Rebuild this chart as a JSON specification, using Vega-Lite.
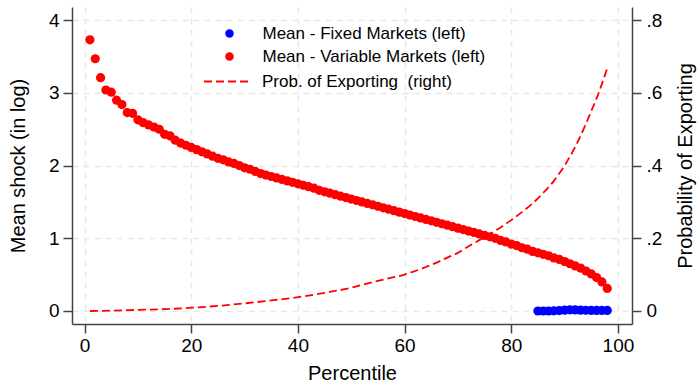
{
  "$schema": "https://vega.github.io/schema/vega-lite/v6.json",
  "width": 560,
  "height": 317,
  "autosize": {"type": "none"},
  "padding": {"left": 72, "top": 7, "right": 68, "bottom": 62},
  "background": "white",
  "config": {
    "view": {"stroke": null},
    "font": "Liberation Sans",
    "axis": {
      "domainColor": "#444444",
      "domainWidth": 1.5,
      "tickColor": "#444444",
      "tickWidth": 1.5,
      "tickSize": 9,
      "labelFont": "Liberation Sans",
      "labelFontSize": 19,
      "labelColor": "#000000",
      "titleFont": "Liberation Sans",
      "titleFontSize": 20,
      "titleFontWeight": "normal",
      "titleColor": "#000000",
      "gridColor": "#e8e8e8",
      "gridWidth": 1.5,
      "gridDash": [6, 5]
    },
    "legend": {
      "orient": "none",
      "title": null,
      "padding": 0,
      "labelFont": "Liberation Sans",
      "labelFontSize": 17,
      "labelColor": "#000000",
      "labelLimit": 500
    }
  },
  "datasets": {
    "pts": [
      {"p": 1, "v": 3.73, "series": "Mean - Variable Markets (left)"},
      {"p": 2, "v": 3.47, "series": "Mean - Variable Markets (left)"},
      {"p": 3, "v": 3.21, "series": "Mean - Variable Markets (left)"},
      {"p": 4, "v": 3.04, "series": "Mean - Variable Markets (left)"},
      {"p": 5, "v": 3.01, "series": "Mean - Variable Markets (left)"},
      {"p": 6, "v": 2.90, "series": "Mean - Variable Markets (left)"},
      {"p": 7, "v": 2.84, "series": "Mean - Variable Markets (left)"},
      {"p": 8, "v": 2.73, "series": "Mean - Variable Markets (left)"},
      {"p": 9, "v": 2.72, "series": "Mean - Variable Markets (left)"},
      {"p": 10, "v": 2.63, "series": "Mean - Variable Markets (left)"},
      {"p": 11, "v": 2.59, "series": "Mean - Variable Markets (left)"},
      {"p": 12, "v": 2.56, "series": "Mean - Variable Markets (left)"},
      {"p": 13, "v": 2.53, "series": "Mean - Variable Markets (left)"},
      {"p": 14, "v": 2.50, "series": "Mean - Variable Markets (left)"},
      {"p": 15, "v": 2.43, "series": "Mean - Variable Markets (left)"},
      {"p": 16, "v": 2.41, "series": "Mean - Variable Markets (left)"},
      {"p": 17, "v": 2.35, "series": "Mean - Variable Markets (left)"},
      {"p": 18, "v": 2.31, "series": "Mean - Variable Markets (left)"},
      {"p": 19, "v": 2.28, "series": "Mean - Variable Markets (left)"},
      {"p": 20, "v": 2.25, "series": "Mean - Variable Markets (left)"},
      {"p": 21, "v": 2.22, "series": "Mean - Variable Markets (left)"},
      {"p": 22, "v": 2.19, "series": "Mean - Variable Markets (left)"},
      {"p": 23, "v": 2.16, "series": "Mean - Variable Markets (left)"},
      {"p": 24, "v": 2.13, "series": "Mean - Variable Markets (left)"},
      {"p": 25, "v": 2.10, "series": "Mean - Variable Markets (left)"},
      {"p": 26, "v": 2.08, "series": "Mean - Variable Markets (left)"},
      {"p": 27, "v": 2.05, "series": "Mean - Variable Markets (left)"},
      {"p": 28, "v": 2.03, "series": "Mean - Variable Markets (left)"},
      {"p": 29, "v": 2.00, "series": "Mean - Variable Markets (left)"},
      {"p": 30, "v": 1.97, "series": "Mean - Variable Markets (left)"},
      {"p": 31, "v": 1.95, "series": "Mean - Variable Markets (left)"},
      {"p": 32, "v": 1.92, "series": "Mean - Variable Markets (left)"},
      {"p": 33, "v": 1.89, "series": "Mean - Variable Markets (left)"},
      {"p": 34, "v": 1.87, "series": "Mean - Variable Markets (left)"},
      {"p": 35, "v": 1.85, "series": "Mean - Variable Markets (left)"},
      {"p": 36, "v": 1.83, "series": "Mean - Variable Markets (left)"},
      {"p": 37, "v": 1.81, "series": "Mean - Variable Markets (left)"},
      {"p": 38, "v": 1.79, "series": "Mean - Variable Markets (left)"},
      {"p": 39, "v": 1.77, "series": "Mean - Variable Markets (left)"},
      {"p": 40, "v": 1.75, "series": "Mean - Variable Markets (left)"},
      {"p": 41, "v": 1.73, "series": "Mean - Variable Markets (left)"},
      {"p": 42, "v": 1.71, "series": "Mean - Variable Markets (left)"},
      {"p": 43, "v": 1.69, "series": "Mean - Variable Markets (left)"},
      {"p": 44, "v": 1.66, "series": "Mean - Variable Markets (left)"},
      {"p": 45, "v": 1.64, "series": "Mean - Variable Markets (left)"},
      {"p": 46, "v": 1.62, "series": "Mean - Variable Markets (left)"},
      {"p": 47, "v": 1.60, "series": "Mean - Variable Markets (left)"},
      {"p": 48, "v": 1.58, "series": "Mean - Variable Markets (left)"},
      {"p": 49, "v": 1.56, "series": "Mean - Variable Markets (left)"},
      {"p": 50, "v": 1.54, "series": "Mean - Variable Markets (left)"},
      {"p": 51, "v": 1.52, "series": "Mean - Variable Markets (left)"},
      {"p": 52, "v": 1.50, "series": "Mean - Variable Markets (left)"},
      {"p": 53, "v": 1.48, "series": "Mean - Variable Markets (left)"},
      {"p": 54, "v": 1.46, "series": "Mean - Variable Markets (left)"},
      {"p": 55, "v": 1.44, "series": "Mean - Variable Markets (left)"},
      {"p": 56, "v": 1.42, "series": "Mean - Variable Markets (left)"},
      {"p": 57, "v": 1.40, "series": "Mean - Variable Markets (left)"},
      {"p": 58, "v": 1.38, "series": "Mean - Variable Markets (left)"},
      {"p": 59, "v": 1.36, "series": "Mean - Variable Markets (left)"},
      {"p": 60, "v": 1.34, "series": "Mean - Variable Markets (left)"},
      {"p": 61, "v": 1.32, "series": "Mean - Variable Markets (left)"},
      {"p": 62, "v": 1.30, "series": "Mean - Variable Markets (left)"},
      {"p": 63, "v": 1.28, "series": "Mean - Variable Markets (left)"},
      {"p": 64, "v": 1.26, "series": "Mean - Variable Markets (left)"},
      {"p": 65, "v": 1.24, "series": "Mean - Variable Markets (left)"},
      {"p": 66, "v": 1.22, "series": "Mean - Variable Markets (left)"},
      {"p": 67, "v": 1.20, "series": "Mean - Variable Markets (left)"},
      {"p": 68, "v": 1.18, "series": "Mean - Variable Markets (left)"},
      {"p": 69, "v": 1.16, "series": "Mean - Variable Markets (left)"},
      {"p": 70, "v": 1.14, "series": "Mean - Variable Markets (left)"},
      {"p": 71, "v": 1.12, "series": "Mean - Variable Markets (left)"},
      {"p": 72, "v": 1.10, "series": "Mean - Variable Markets (left)"},
      {"p": 73, "v": 1.08, "series": "Mean - Variable Markets (left)"},
      {"p": 74, "v": 1.06, "series": "Mean - Variable Markets (left)"},
      {"p": 75, "v": 1.04, "series": "Mean - Variable Markets (left)"},
      {"p": 76, "v": 1.02, "series": "Mean - Variable Markets (left)"},
      {"p": 77, "v": 1.00, "series": "Mean - Variable Markets (left)"},
      {"p": 78, "v": 0.97, "series": "Mean - Variable Markets (left)"},
      {"p": 79, "v": 0.95, "series": "Mean - Variable Markets (left)"},
      {"p": 80, "v": 0.92, "series": "Mean - Variable Markets (left)"},
      {"p": 81, "v": 0.90, "series": "Mean - Variable Markets (left)"},
      {"p": 82, "v": 0.87, "series": "Mean - Variable Markets (left)"},
      {"p": 83, "v": 0.85, "series": "Mean - Variable Markets (left)"},
      {"p": 84, "v": 0.82, "series": "Mean - Variable Markets (left)"},
      {"p": 85, "v": 0.80, "series": "Mean - Variable Markets (left)"},
      {"p": 86, "v": 0.78, "series": "Mean - Variable Markets (left)"},
      {"p": 87, "v": 0.76, "series": "Mean - Variable Markets (left)"},
      {"p": 88, "v": 0.73, "series": "Mean - Variable Markets (left)"},
      {"p": 89, "v": 0.71, "series": "Mean - Variable Markets (left)"},
      {"p": 90, "v": 0.68, "series": "Mean - Variable Markets (left)"},
      {"p": 91, "v": 0.65, "series": "Mean - Variable Markets (left)"},
      {"p": 92, "v": 0.62, "series": "Mean - Variable Markets (left)"},
      {"p": 93, "v": 0.59, "series": "Mean - Variable Markets (left)"},
      {"p": 94, "v": 0.55, "series": "Mean - Variable Markets (left)"},
      {"p": 95, "v": 0.51, "series": "Mean - Variable Markets (left)"},
      {"p": 96, "v": 0.46, "series": "Mean - Variable Markets (left)"},
      {"p": 97, "v": 0.40, "series": "Mean - Variable Markets (left)"},
      {"p": 98, "v": 0.31, "series": "Mean - Variable Markets (left)"},
      {"p": 85, "v": 0.000, "series": "Mean - Fixed Markets (left)"},
      {"p": 86, "v": 0.000, "series": "Mean - Fixed Markets (left)"},
      {"p": 87, "v": 0.000, "series": "Mean - Fixed Markets (left)"},
      {"p": 88, "v": 0.003, "series": "Mean - Fixed Markets (left)"},
      {"p": 89, "v": 0.006, "series": "Mean - Fixed Markets (left)"},
      {"p": 90, "v": 0.012, "series": "Mean - Fixed Markets (left)"},
      {"p": 91, "v": 0.016, "series": "Mean - Fixed Markets (left)"},
      {"p": 92, "v": 0.015, "series": "Mean - Fixed Markets (left)"},
      {"p": 93, "v": 0.012, "series": "Mean - Fixed Markets (left)"},
      {"p": 94, "v": 0.010, "series": "Mean - Fixed Markets (left)"},
      {"p": 95, "v": 0.008, "series": "Mean - Fixed Markets (left)"},
      {"p": 96, "v": 0.008, "series": "Mean - Fixed Markets (left)"},
      {"p": 97, "v": 0.007, "series": "Mean - Fixed Markets (left)"},
      {"p": 98, "v": 0.007, "series": "Mean - Fixed Markets (left)"}
    ],
    "prob": [
      {"p": 1, "prob": 0.000, "series": "Prob. of Exporting\u00a0 (right)"},
      {"p": 5, "prob": 0.001, "series": "Prob. of Exporting\u00a0 (right)"},
      {"p": 10, "prob": 0.003, "series": "Prob. of Exporting\u00a0 (right)"},
      {"p": 15, "prob": 0.005, "series": "Prob. of Exporting\u00a0 (right)"},
      {"p": 20, "prob": 0.009, "series": "Prob. of Exporting\u00a0 (right)"},
      {"p": 25, "prob": 0.014, "series": "Prob. of Exporting\u00a0 (right)"},
      {"p": 30, "prob": 0.021, "series": "Prob. of Exporting\u00a0 (right)"},
      {"p": 35, "prob": 0.029, "series": "Prob. of Exporting\u00a0 (right)"},
      {"p": 40, "prob": 0.038, "series": "Prob. of Exporting\u00a0 (right)"},
      {"p": 45, "prob": 0.050, "series": "Prob. of Exporting\u00a0 (right)"},
      {"p": 50, "prob": 0.064, "series": "Prob. of Exporting\u00a0 (right)"},
      {"p": 52, "prob": 0.072, "series": "Prob. of Exporting\u00a0 (right)"},
      {"p": 55, "prob": 0.083, "series": "Prob. of Exporting\u00a0 (right)"},
      {"p": 58, "prob": 0.093, "series": "Prob. of Exporting\u00a0 (right)"},
      {"p": 60, "prob": 0.100, "series": "Prob. of Exporting\u00a0 (right)"},
      {"p": 62, "prob": 0.110, "series": "Prob. of Exporting\u00a0 (right)"},
      {"p": 64, "prob": 0.121, "series": "Prob. of Exporting\u00a0 (right)"},
      {"p": 66, "prob": 0.133, "series": "Prob. of Exporting\u00a0 (right)"},
      {"p": 68, "prob": 0.147, "series": "Prob. of Exporting\u00a0 (right)"},
      {"p": 70, "prob": 0.160, "series": "Prob. of Exporting\u00a0 (right)"},
      {"p": 72, "prob": 0.178, "series": "Prob. of Exporting\u00a0 (right)"},
      {"p": 74, "prob": 0.195, "series": "Prob. of Exporting\u00a0 (right)"},
      {"p": 76, "prob": 0.212, "series": "Prob. of Exporting\u00a0 (right)"},
      {"p": 78, "prob": 0.230, "series": "Prob. of Exporting\u00a0 (right)"},
      {"p": 80, "prob": 0.250, "series": "Prob. of Exporting\u00a0 (right)"},
      {"p": 82, "prob": 0.272, "series": "Prob. of Exporting\u00a0 (right)"},
      {"p": 84, "prob": 0.296, "series": "Prob. of Exporting\u00a0 (right)"},
      {"p": 86, "prob": 0.325, "series": "Prob. of Exporting\u00a0 (right)"},
      {"p": 88, "prob": 0.358, "series": "Prob. of Exporting\u00a0 (right)"},
      {"p": 89, "prob": 0.378, "series": "Prob. of Exporting\u00a0 (right)"},
      {"p": 90, "prob": 0.400, "series": "Prob. of Exporting\u00a0 (right)"},
      {"p": 91, "prob": 0.425, "series": "Prob. of Exporting\u00a0 (right)"},
      {"p": 92, "prob": 0.452, "series": "Prob. of Exporting\u00a0 (right)"},
      {"p": 93, "prob": 0.482, "series": "Prob. of Exporting\u00a0 (right)"},
      {"p": 94, "prob": 0.515, "series": "Prob. of Exporting\u00a0 (right)"},
      {"p": 95, "prob": 0.550, "series": "Prob. of Exporting\u00a0 (right)"},
      {"p": 96, "prob": 0.585, "series": "Prob. of Exporting\u00a0 (right)"},
      {"p": 97, "prob": 0.625, "series": "Prob. of Exporting\u00a0 (right)"},
      {"p": 98, "prob": 0.668, "series": "Prob. of Exporting\u00a0 (right)"}
    ]
  },
  "layer": [
    {
      "data": {"name": "pts"},
      "mark": {"type": "point", "filled": true, "size": 85, "opacity": 1, "strokeWidth": 0},
      "encoding": {
        "x": {
          "field": "p", "type": "quantitative",
          "scale": {"domain": [-2.36, 102.64], "nice": false, "zero": false},
          "axis": {"values": [0, 20, 40, 60, 80, 100], "title": "Percentile", "grid": true, "labelPadding": 3, "titlePadding": 8, "labelFlush": false}
        },
        "y": {
          "field": "v", "type": "quantitative",
          "scale": {"domain": [-0.179, 4.182], "nice": false, "zero": false},
          "axis": {"orient": "left", "values": [0, 1, 2, 3, 4], "title": "Mean shock (in log)", "grid": true, "labelPadding": 4, "titlePadding": 20}
        },
        "color": {
          "field": "series", "type": "nominal",
          "scale": {"domain": ["Mean - Fixed Markets (left)", "Mean - Variable Markets (left)"], "range": ["#0000ff", "#ff0000"]},
          "legend": {
            "legendX": 149,
            "legendY": 18,
            "symbolType": "circle",
            "symbolSize": 72,
            "symbolStrokeWidth": 0,
            "symbolOpacity": 1,
            "labelOffset": 24.5,
            "rowPadding": 5
          }
        }
      }
    },
    {
      "data": {"name": "prob"},
      "mark": {"type": "line", "strokeWidth": 1.8, "strokeDash": [8, 4], "interpolate": "monotone"},
      "encoding": {
        "x": {"field": "p", "type": "quantitative"},
        "y": {
          "field": "prob", "type": "quantitative",
          "scale": {"domain": [-0.0358, 0.8364], "nice": false, "zero": false},
          "axis": {
            "orient": "right",
            "values": [0, 0.2, 0.4, 0.6, 0.8],
            "labelExpr": "datum.value == 0 ? '0' : replace(format(datum.value, '.1f'), '0.', '.')",
            "title": "Probability of Exporting",
            "titleAngle": 270,
            "titleBaseline": "top",
            "grid": false,
            "labelPadding": 5,
            "titlePadding": 14
          }
        },
        "color": {
          "field": "series", "type": "nominal",
          "scale": {"range": ["#ff0000"]},
          "legend": {
            "legendX": 131,
            "legendY": 51,
            "symbolType": "stroke",
            "symbolSize": 2025,
            "symbolStrokeWidth": 1.8,
            "symbolDash": [8, 4],
            "labelOffset": 12
          }
        }
      }
    }
  ],
  "resolve": {"scale": {"y": "independent", "color": "independent"}, "axis": {"y": "independent"}, "legend": {"color": "independent"}}
}
